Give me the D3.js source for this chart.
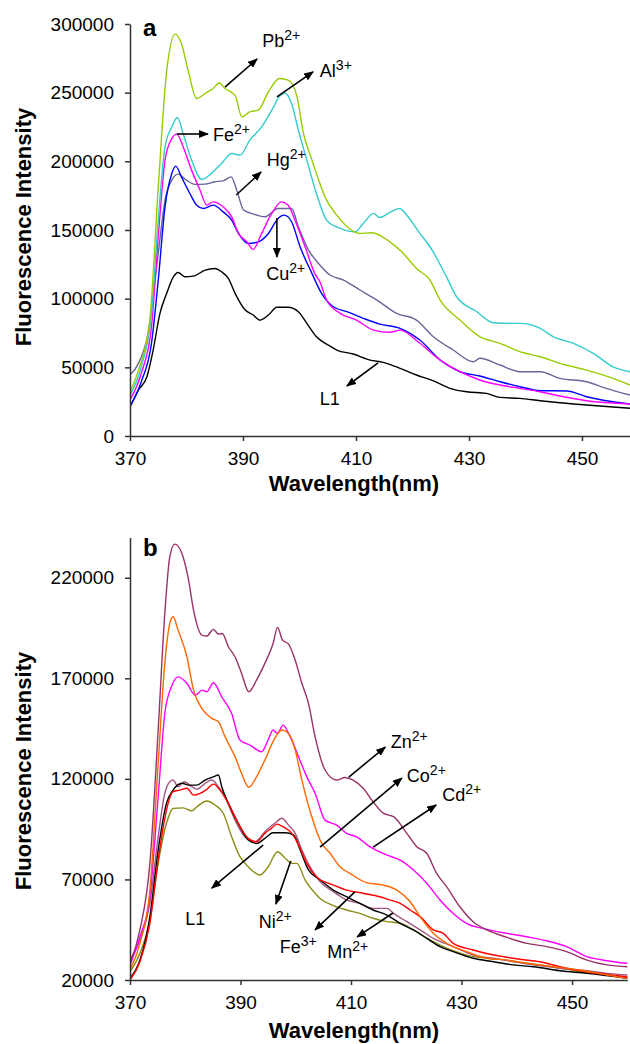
<!DOCTYPE html>
<html><head><meta charset="utf-8">
<script src="https://cdn.jsdelivr.net/npm/d3@7"></script>
<style>
body{margin:0;background:#fff}
text{font-family:"Liberation Sans",Arial,Helvetica,sans-serif}
</style>
</head><body>
<svg id="c" width="630" height="1044"></svg>
<script>
// ---------- Panel a data (wavelength nm, intensity) ----------
const xTicks = [370, 390, 410, 430, 450];
const yTicksA = [0, 50000, 100000, 150000, 200000, 250000, 300000];
const yTicksB = [20000, 70000, 120000, 170000, 220000];

const pbA = [[370,32000],[371.5,48000],[373.5,84400],[375,181000],[376.5,266000],[378,292600],[379.1,285800],[380.3,266000],[381.8,245800],[383.3,249400],[384.7,253000],[385.8,257000],[386.8,253000],[388.6,248000],[389.8,232400],[391.2,236000],[392.7,237300],[394.5,250600],[396.5,260300],[398,259100],[399.5,248000],[400.7,220300],[402.2,200900],[403.6,184000],[404.5,174200],[406.6,160800],[410.7,147500],[412.8,148000],[416,141400],[418.1,134100],[420.7,122000],[423.1,113500],[424.9,99000],[428.4,84400],[431.9,72300],[435.5,67500],[439,61400],[442.6,57700],[446.1,52900],[450.8,48000],[455.5,42000],[458.5,37100]];
const alA = [[370,29800],[372,50400],[373.8,89300],[375,157200],[376.2,210600],[377.4,225100],[378.4,231900],[379.4,220300],[380.9,200900],[382.7,186800],[384.5,191600],[386.2,198500],[388,205700],[389.5,204500],[391.2,215400],[393.3,225100],[395.1,237300],[396.5,247500],[397.4,249800],[398.6,242100],[399.8,222700],[401.3,200900],[403,176600],[404.8,157200],[407.2,151200],[409.8,148700],[411.3,154800],[413.1,162100],[414.2,159100],[416,162800],[417.7,165700],[419,160800],[421.3,147500],[423.1,137800],[426,116000],[427.8,101400],[431.4,90500],[434.3,82500],[437.3,82000],[439,82000],[442.6,78400],[444.9,72300],[448.5,67500],[452,60200],[455.5,50400],[458.5,46800]];
const feA = [[370,26200],[372,45600],[373.8,79500],[375,145000],[376.2,200900],[377.4,216600],[378.3,219800],[379.4,210600],[380.9,193600],[382.4,179000],[383.6,168100],[384.7,170500],[386.5,166900],[388,159600],[389.2,147500],[390.7,141400],[391.8,135900],[393.3,147500],[395.1,162100],[396.8,170500],[398,168100],[399.2,157200],[401,137800],[402.7,118400],[403.6,112300],[404.8,99000],[407.2,89300],[410.1,84400],[413.1,77100],[416,75500],[417.8,77100],[421.3,67500],[424.9,55300],[428.4,46800],[431.9,40800],[435.5,37100],[439,34700],[442.6,32200],[446.1,29100],[450.8,25700],[458.5,23300]];
const cuA = [[370,21300],[372,39500],[373.8,67500],[375,113500],[376.2,166900],[377.4,191200],[378.1,196500],[379.1,188700],[380.6,176600],[381.8,168100],[383,165700],[384.7,168100],[386.5,163200],[388,157200],[389.2,147500],[390.9,140200],[392.7,141400],[394.5,147500],[396.2,158400],[397.3,160800],[398.6,156000],[400.1,137800],[402.2,118400],[403.9,103900],[406,94100],[408.4,90500],[411.3,85700],[414.2,81500],[417.8,78400],[421.3,69900],[424.9,55300],[428.4,46800],[431.9,43700],[435.5,39500],[439,35900],[442.6,33000],[447.3,32800],[450.8,28600],[458.5,23300]];
const hgA = [[370,44400],[371.5,52900],[373.2,74700],[375,133000],[376.2,171800],[377.4,186300],[378.5,190700],[380,186300],[381.5,183200],[383.3,183400],[385,185100],[386.5,185800],[387.9,188700],[388.9,179000],[390.1,164500],[391.5,162100],[393.9,159600],[396.2,165700],[398.6,165700],[399.8,152300],[401.6,135400],[403.3,126000],[405.4,117200],[407.8,113500],[410.7,106300],[413.7,99000],[417.2,89300],[420.7,84400],[423.7,72300],[427.2,62600],[430.8,54100],[431.9,56600],[435.5,51700],[439,46800],[442.6,46800],[446.1,42000],[450.8,39500],[454.3,34700],[458.5,29800]];
const l1A = [[370,21300],[371.5,33500],[373,43200],[374.1,62600],[375.3,89300],[376.5,103900],[377.7,116000],[378.5,119100],[379.7,116000],[381.2,116400],[383.3,120800],[385,122000],[386.2,119600],[387.4,114800],[388.6,103900],[390.4,91700],[391.8,88100],[393,84400],[394.5,88100],[396,93700],[398,93700],[399.8,90500],[401.3,82000],[403,72300],[405.1,66200],[406.6,62600],[409.5,59700],[412.5,55300],[414.8,53600],[417.8,49300],[420.7,44400],[423.7,40200],[426.6,34700],[429.6,32200],[433.1,31000],[435.5,28100],[439,27400],[442.6,25700],[446.1,24200],[450.8,22600],[458.5,20200]];

// ---------- Panel b data ----------
const znB = [[370,28300],[371.8,44900],[373.6,78000],[375.1,144300],[376.3,202300],[377.2,230400],[378.1,236700],[379.4,232100],[380.6,218800],[381.5,203900],[383,191500],[383.9,191000],[385.1,194300],[386,192000],[386.7,192300],[387.8,185700],[389,180700],[390.2,172400],[391.5,163300],[392.9,169100],[394.4,177400],[395.9,187300],[396.7,195300],[397.6,189000],[398.7,187000],[399.9,179000],[401.1,167500],[402.3,157500],[403.5,140900],[405.3,124400],[407.4,119400],[408.9,120700],[410.4,119400],[412.2,115300],[414,108600],[415.9,102800],[417.7,101200],[420.1,92900],[421.9,86300],[423.7,83000],[425.5,73000],[427.3,66400],[429.7,56400],[432.1,49000],[434.6,44900],[438.2,41200],[441.8,38200],[445.4,36600],[449,34100],[452.7,29900],[456.3,27500],[460,26600]];
const coB = [[370,25000],[371.8,38200],[373.6,64700],[375.1,127700],[376.3,177400],[377.2,197300],[377.8,200600],[378.7,194000],[380.3,180700],[381.5,164100],[383,155000],[384.8,150100],[386,148400],[387.2,140900],[389,131000],[390.2,122700],[391.5,115800],[392.9,121000],[394.4,129300],[396.2,140100],[397.5,144300],[398.7,142600],[399.9,134300],[401.1,119400],[402.9,101200],[404.7,87900],[406.2,83000],[408,76300],[409.8,73000],[412.8,68400],[415.8,67200],[418.3,64700],[420.7,58900],[422.5,51500],[424.9,43200],[427.3,38200],[430.9,34100],[434.6,30800],[438.2,29900],[441.8,28300],[446.6,26600],[451.4,25000],[456.3,22500],[460,20800]];
const cdB = [[370,27500],[371.8,41500],[373.6,61400],[375.1,111100],[376.3,152500],[377.5,165800],[378.7,170700],[380.3,167500],[381.8,161600],[383.1,164100],[383.9,163300],[385.1,167800],[386.6,160800],[388.4,152500],[389.9,139300],[391.7,136800],[393.8,133500],[395,139300],[395.9,144300],[396.7,142600],[397.7,146700],[399,140900],[400.5,131000],[402,121000],[403.5,112800],[405.3,99500],[407.4,97000],[409.2,92900],[411,91200],[413.4,86300],[416.5,82100],[418.9,79600],[421.3,74700],[423.7,68100],[426.1,59800],[428.5,53100],[430.9,48200],[434.6,45200],[438.2,43200],[441.8,41500],[445.4,39500],[449,36600],[452.7,31600],[456.3,29600],[460,28300]];
const l1B = [[370,20800],[371.8,29900],[373.6,51500],[375.1,84600],[376.6,107800],[377.8,114400],[379.4,117800],[380.6,116900],[382.1,116900],[383.6,119400],[385.1,121000],[386,121900],[386.6,116100],[387.8,107800],[389.6,97900],[391.4,89600],[392.9,87900],[394.4,90400],[395.9,93200],[398.1,93200],[399.6,92100],[400.8,84600],[402.3,74700],[404.3,70000],[406.8,64700],[409.2,61400],[411.6,58100],[414,54800],[416.5,52300],[418.9,48200],[421.3,44900],[423.7,40700],[426.1,36600],[428.5,34100],[432.1,30800],[435.8,29100],[439.4,27500],[443,26600],[447.8,24600],[452.7,23300],[460,20800]];
const mnB = [[370,29900],[371.8,39900],[373.6,58100],[375.1,91200],[376.3,112800],[377.2,118600],[377.8,119400],[378.7,116100],[379.8,118600],[381.2,116100],[382.1,114800],[383.6,117800],[384.8,119400],[386,116100],[387.2,111100],[389,99500],[390.8,91200],[392.6,88700],[394.4,93700],[396.2,97900],[397.5,100400],[398.7,97000],[399.9,92900],[401.1,84600],[402.9,74700],[404.4,68900],[406.8,63900],[409.2,59800],[411.6,58100],[414,55600],[416.5,55600],[417.7,53100],[420.1,49000],[422.5,44900],[424.9,40700],[428.5,36600],[432.1,32400],[435.8,30800],[439.4,29100],[443,27500],[447.8,25800],[452.7,24600],[456.3,23300],[460,22500]];
const fe3B = [[370,20000],[371.8,29100],[373.6,48200],[375.1,79600],[376.6,104500],[377.8,113600],[379,114400],[380.3,115300],[381.5,111900],[382.7,112800],[383.9,114800],[385.1,117400],[386.3,114400],[387.8,107800],[389.6,97900],[391.4,90400],[392.9,88700],[394.4,92900],[395.6,95400],[396.6,97500],[397.7,96200],[399.3,92900],[400.5,87100],[402,78000],[404.1,70500],[405.9,68100],[406.8,67200],[409.2,64700],[412.2,63100],[415.2,61400],[417,59800],[418.9,58100],[420.7,54800],[422.5,51500],[424.9,44900],[426.7,43200],[428.5,38200],[432.1,34900],[435.8,32400],[438.2,31300],[440.6,30300],[444.2,29100],[447.8,26600],[452.7,24100],[460,21600]];
const niB = [[370,24100],[371.8,33300],[373.6,49800],[375.1,78000],[376.6,97900],[377.8,105300],[379.6,105600],[381.2,104100],[382.1,106100],[383.9,109000],[385.4,107000],[386.9,102800],[388.4,91200],[389.9,81300],[391.4,76300],[393.5,72200],[395,76300],[396.7,83800],[398.1,80500],[399.3,78000],[400.2,78000],[401.7,69700],[403.5,63100],[404.4,60500],[406.8,57000],[409.2,54800],[411.6,53100],[414,50700],[416.5,49000],[418.9,48200],[421.3,44900],[424.3,39900],[427.3,35800],[430.9,32400],[434.6,30800],[438.2,29900],[441.8,28300],[446.6,26600],[451.4,24100],[456.3,22500],[460,21300]];

// ---------- Annotations (in data units) ----------
const annA = [
  {t:"Pb", s:"2+", tx:393.4, ty:283300, x1:386.8, y1:254100, x2:392.5, y2:274500},
  {t:"Al", s:"3+", tx:403.6, ty:261400, x1:396.0, y1:246900, x2:402.4, y2:265100},
  {t:"Fe", s:"2+", tx:384.7, ty:214800, x1:378.3, y1:219900, x2:383.8, y2:219900},
  {t:"Hg", s:"2+", tx:394.2, ty:196600, x1:388.8, y1:175500, x2:393.2, y2:192200},
  {t:"Cu", s:"2+", tx:394.1, ty:113600, x1:396.0, y1:158700, x2:396.0, y2:130300},
  {t:"L1", s:"",   tx:403.6, ty:22600,  x1:413.9, y1:53200,  x2:408.4, y2:36400}
];
const annB = [
  {t:"Zn", s:"2+", tx:417.2, ty:135400, x1:409.6, y1:120900, x2:416.2, y2:135800},
  {t:"Co", s:"2+", tx:420.1, ty:118400, x1:404.4, y1:86100,  x2:419.2, y2:120400},
  {t:"Cd", s:"2+", tx:426.5, ty:109000, x1:414.0, y1:86100,  x2:425.4, y2:107000},
  {t:"L1", s:"",   tx:380.0, ty:47300,  x1:394.1, y1:87100,  x2:384.8, y2:65700},
  {t:"Ni", s:"2+", tx:393.3, ty:45900,  x1:399.1, y1:79200,  x2:396.4, y2:57800},
  {t:"Fe", s:"3+", tx:397.1, ty:33400,  x1:410.7, y1:63800,  x2:403.5, y2:44900},
  {t:"Mn", s:"2+", tx:405.7, ty:30900,  x1:417.6, y1:53300,  x2:411.1, y2:41400}
];

const svg = d3.select("#c");
const defs = svg.append("defs");
defs.append("marker").attr("id","arr").attr("markerUnits","userSpaceOnUse")
  .attr("viewBox","0 0 10 8").attr("markerWidth",10).attr("markerHeight",8)
  .attr("refX",9).attr("refY",4).attr("orient","auto")
  .append("path").attr("d","M0,0L10,4L0,8Z").attr("fill","#000");

function panel(o){
  const x = d3.scaleLinear().domain(o.xd).range([130, o.xr]);
  const y = d3.scaleLinear().domain(o.yd).range([o.yb, o.yt]);
  const g = svg.append("g");
  const cid = "clip" + o.letter;
  defs.append("clipPath").attr("id",cid).append("rect")
    .attr("x",130).attr("y",o.yt - 6).attr("width",o.xr-130+4).attr("height",o.yb-o.yt+6);

  const line = d3.line().x(d=>x(d[0])).y(d=>y(d[1])).curve(d3.curveMonotoneX);
  const lg = g.append("g").attr("clip-path","url(#"+cid+")");
  o.series.forEach(s=>{
    lg.append("path").datum(s.d).attr("d",line).attr("fill","none")
      .attr("stroke",s.c).attr("stroke-width",1.4).attr("stroke-linejoin","round");
  });

  const ya = g.append("g").attr("transform","translate(130,0)")
    .call(d3.axisLeft(y).tickValues(o.yticks).tickFormat(d3.format("d")).tickSize(5).tickSizeOuter(0).tickPadding(11));
  const xa = g.append("g").attr("transform","translate(0,"+o.yb+")")
    .call(d3.axisBottom(x).tickValues(xTicks).tickFormat(d3.format("d")).tickSize(5).tickSizeOuter(0).tickPadding(11));
  [ya,xa].forEach(a=>{
    a.select(".domain").attr("stroke","#333").attr("stroke-width",1.5);
    a.selectAll(".tick line").attr("stroke","#333").attr("stroke-width",1.5);
    a.selectAll(".tick text").attr("font-size",19).attr("fill","#000")
      .attr("font-family","'Liberation Sans',Arial,sans-serif");
  });

  // annotations
  o.ann.forEach(a=>{
    g.append("line").attr("x1",x(a.x1)).attr("y1",y(a.y1)).attr("x2",x(a.x2)).attr("y2",y(a.y2))
      .attr("stroke","#000").attr("stroke-width",1.6).attr("marker-end","url(#arr)");
    const t = g.append("text").attr("x",x(a.tx)).attr("y",y(a.ty)).attr("font-size",18).attr("fill","#000");
    t.append("tspan").text(a.t);
    if(a.s) t.append("tspan").attr("font-size",14).attr("dy",-7).text(a.s);
  });

  g.append("text").attr("x",143).attr("y",o.yt + o.letterDy).attr("font-size",24)
    .attr("font-weight","bold").text(o.letter);
  g.append("text").attr("transform","translate(31,"+o.ylabY+") rotate(-90)")
    .attr("text-anchor","middle").attr("font-size",22).attr("font-weight","bold")
    .text("Fluorescence Intensity");
  g.append("text").attr("x",354).attr("y",o.xlabY).attr("text-anchor","middle")
    .attr("font-size",22).attr("font-weight","bold").text("Wavelength(nm)");
}

panel({
  letter:"a", letterDy:12, xd:[370,458.5], xr:630, yd:[0,300000], yb:436, yt:24,
  yticks:yTicksA, ylabY:227, xlabY:491,
  series:[
    {d:l1A,c:"#000000"},{d:hgA,c:"#666699"},{d:cuA,c:"#0000ff"},{d:feA,c:"#ff00ff"},
    {d:alA,c:"#33cccc"},{d:pbA,c:"#99cc00"}
  ],
  ann:annA
});
panel({
  letter:"b", letterDy:18, xd:[370,460], xr:627.3, yd:[20000,240000], yb:980, yt:537.5,
  yticks:yTicksB, ylabY:771, xlabY:1038,
  series:[
    {d:niB,c:"#8c8c14"},{d:mnB,c:"#a3557f"},{d:l1B,c:"#000000"},{d:fe3B,c:"#ff0000"},
    {d:cdB,c:"#ff00ff"},{d:coB,c:"#ff6600"},{d:znB,c:"#993366"}
  ],
  ann:annB
});
</script>
</body></html>
